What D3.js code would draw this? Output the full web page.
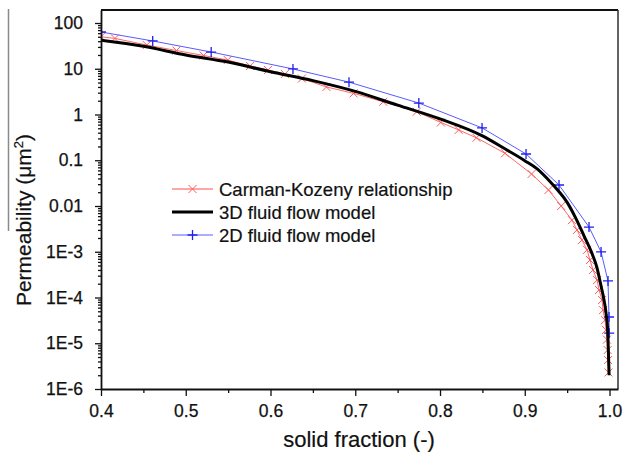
<!DOCTYPE html>
<html><head><meta charset="utf-8">
<script src="https://cdn.jsdelivr.net/npm/d3@7"></script>
<style>
body{margin:0;background:#fff;}
svg{display:block;font-family:"Liberation Sans",Arial,sans-serif;}
</style></head>
<body>
<svg id="chart" width="624" height="457"></svg>
<script>
// ---------------- data ----------------
const xTickValues = [0.4, 0.5, 0.6, 0.7, 0.8, 0.9, 1.0];
const xTickLabels = ["0.4", "0.5", "0.6", "0.7", "0.8", "0.9", "1.0"];
const xMinorTicks = [0.45, 0.55, 0.65, 0.75, 0.85, 0.95];
const yTickValues = [100, 10, 1, 0.1, 0.01, 1e-3, 1e-4, 1e-5, 1e-6];
const yTickLabels = ["100", "10", "1", "0.1", "0.01", "1E-3", "1E-4", "1E-5", "1E-6"];

const seriesNames = ["Carman-Kozeny relationship", "3D fluid flow model", "2D fluid flow model"];

// Carman-Kozeny relationship (red, x markers)
const ckX = [0.400, 0.4165, 0.454, 0.489, 0.521, 0.5495, 0.576, 0.597, 0.617, 0.637, 0.666, 0.698, 0.733, 0.7725, 0.801, 0.822, 0.843, 0.8767, 0.908, 0.928, 0.943, 0.9557, 0.9616, 0.9675, 0.9735, 0.977, 0.9805, 0.9853, 0.9876, 0.9912, 0.9923, 0.9947, 0.9959, 0.997, 0.9978, 0.9983, 0.9988];
const ckY = [50, 46, 33, 25, 19.5, 15.5, 11.5, 9.4, 7.7, 6.1, 4.0, 2.9, 1.9, 1.15, 0.67, 0.46, 0.31, 0.142, 0.050, 0.0224, 0.010, 0.0049, 0.0030, 0.0018, 0.0011, 6.6e-4, 4.0e-4, 2.4e-4, 1.46e-4, 8.8e-5, 5.3e-5, 3.2e-5, 1.95e-5, 1.2e-5, 7.1e-6, 4.3e-6, 2.3e-6];

// 3D fluid flow model (black thick line)
const m3dX = [0.40, 0.45, 0.50, 0.55, 0.60, 0.65, 0.70, 0.75, 0.80, 0.85, 0.875, 0.90, 0.915, 0.93, 0.94, 0.95, 0.96, 0.97, 0.98, 0.985, 0.99, 0.9935, 0.996, 0.998, 0.9995];
const m3dY = [42, 31, 20, 14, 8.6, 5.5, 3.2, 1.6, 0.80, 0.34, 0.185, 0.098, 0.064, 0.034, 0.021, 0.012, 0.0055, 0.0022, 8.5e-4, 4.6e-4, 1.78e-4, 8.8e-5, 4.4e-5, 1.67e-5, 2.0e-6];

// 2D fluid flow model (blue, + markers)
const m2dX = [0.400, 0.461, 0.530, 0.6265, 0.6926, 0.775, 0.8496, 0.9015, 0.9404, 0.9758, 0.990, 0.9982, 0.9994, 0.9996];
const m2dY = [63.6, 40.5, 23.2, 9.9, 5.1, 1.78, 0.51, 0.137, 0.0288, 0.00347, 9.9e-4, 2.3e-4, 3.75e-5, 1.67e-5];

// ---------------- chart ----------------
const svg = d3.select("#chart");
const L = 101, R = 618, T = 10, B = 389;

const x = d3.scaleLinear().domain([0.4, 1.01]).range([L, R]);
const y = d3.scaleLog().domain([1e-6, Math.pow(10, 2 + 13 / 45.75)]).range([B, T]);

// stray border line at far left
svg.append("line").attr("x1", 8.5).attr("x2", 8.5).attr("y1", 9).attr("y2", 231)
  .attr("stroke", "#8a8a8a").attr("stroke-width", 1.5);

svg.append("defs").append("clipPath").attr("id", "plotclip")
  .append("rect").attr("x", L).attr("y", T).attr("width", R - L).attr("height", B - T);

// frame (top and right)
svg.append("line").attr("x1", L).attr("x2", R).attr("y1", T).attr("y2", T).attr("stroke", "#111").attr("stroke-width", 1.8);
svg.append("line").attr("x1", R).attr("x2", R).attr("y1", T).attr("y2", B).attr("stroke", "#222").attr("stroke-width", 1.4);

const plot = svg.append("g").attr("clip-path", "url(#plotclip)");

const ck = ckX.map((d, i) => [d, ckY[i]]);
const m3d = m3dX.map((d, i) => [d, m3dY[i]]);
const m2d = m2dX.map((d, i) => [d, m2dY[i]]);

const lineLin = d3.line().x(d => x(d[0])).y(d => y(d[1]));
const lineSmooth = d3.line().x(d => x(d[0])).y(d => y(d[1])).curve(d3.curveMonotoneX);

const red = "#ff4d4d";

function crossX(g, cx, cy, s, color) {
  g.append("path").attr("d", `M${cx - s},${cy - s}L${cx + s},${cy + s}M${cx - s},${cy + s}L${cx + s},${cy - s}`)
    .attr("stroke", color).attr("stroke-width", 1).attr("fill", "none");
}
function plus(g, cx, cy, s, color) {
  g.append("path").attr("d", `M${cx - s},${cy}L${cx + s},${cy}M${cx},${cy - s}L${cx},${cy + s}`)
    .attr("stroke", color).attr("stroke-width", 1.3).attr("fill", "none");
}

// red CK
plot.append("path").datum(ck).attr("d", lineLin).attr("fill", "none")
  .attr("stroke", red).attr("stroke-width", 1).attr("stroke-opacity", 0.85);
ck.forEach(d => crossX(plot, x(d[0]), y(d[1]), 4, "#ff5a5a"));

// blue 2D
plot.append("path").datum(m2d).attr("d", lineLin).attr("fill", "none")
  .attr("stroke", "#5a5aff").attr("stroke-width", 1);
m2d.forEach(d => plus(plot, x(d[0]), y(d[1]), 5, "#2020ee"));

// black 3D
plot.append("path").datum(m3d).attr("d", lineSmooth).attr("fill", "none")
  .attr("stroke", "#000").attr("stroke-width", 3);

// axes
const xAxis = svg.append("g").attr("transform", `translate(0,${B})`)
  .call(d3.axisBottom(x).tickValues(xTickValues).tickFormat((d, i) => xTickLabels[i]).tickSize(7).tickSizeOuter(0).tickPadding(9));
svg.append("g").attr("transform", `translate(0,${B})`)
  .call(d3.axisBottom(x).tickValues(xMinorTicks).tickFormat("").tickSize(4).tickSizeOuter(0))
  .select(".domain").remove();

const yMinor = [];
for (let k = -6; k <= 1; k++) for (let m = 2; m <= 9; m++) yMinor.push(m * Math.pow(10, k));

const yAxis = svg.append("g").attr("transform", `translate(${L},0)`)
  .call(d3.axisLeft(y).tickValues(yTickValues).tickFormat((d, i) => yTickLabels[i]).tickSize(6).tickSizeOuter(0).tickPadding(12));
svg.append("g").attr("transform", `translate(${L},0)`)
  .call(d3.axisLeft(y).tickValues(yMinor).tickFormat("").tickSize(3).tickSizeOuter(0))
  .select(".domain").remove();

svg.selectAll(".tick line").attr("stroke", "#111").attr("stroke-width", 1.3);
xAxis.select(".domain").attr("stroke", "#111").attr("stroke-width", 1.8);
yAxis.select(".domain").attr("stroke", "#111").attr("stroke-width", 1.8);
svg.selectAll(".tick text").attr("font-size", 17.5).attr("fill", "#111")
  .attr("stroke", "#111").attr("stroke-width", 0.25)
  .attr("font-family", "'Liberation Sans', Arial, sans-serif");
xAxis.selectAll(".tick text").attr("dy", "0.71em");

// axis titles
svg.append("text").attr("x", 359).attr("y", 447).attr("text-anchor", "middle")
  .attr("font-size", 22).attr("fill", "#111").attr("stroke", "#111").attr("stroke-width", 0.2)
  .text("solid fraction (-)");
const yt = svg.append("text").attr("transform", "translate(31,220) rotate(-90)")
  .attr("text-anchor", "middle").attr("font-size", 21).attr("fill", "#111")
  .attr("stroke", "#111").attr("stroke-width", 0.2);
yt.append("tspan").text("Permeability (\u03bcm");
yt.append("tspan").attr("font-size", 13).attr("dy", -8).text("2");
yt.append("tspan").attr("dy", 8).text(")");

// legend
const legY = [189, 212, 235];
const lg = svg.append("g");
legY.forEach((ly, i) => {
  const col = i === 0 ? red : i === 1 ? "#000" : "#5a5aff";
  lg.append("line").attr("x1", 172).attr("x2", 213).attr("y1", ly).attr("y2", ly)
    .attr("stroke", col).attr("stroke-width", i === 1 ? 3 : 1);
  if (i === 0) crossX(lg, 192.5, ly, 4, "#ff5a5a");
  if (i === 2) plus(lg, 192.5, ly, 5, "#2020ee");
  lg.append("text").attr("x", 219).attr("y", ly + 6.5).attr("font-size", 18.5).attr("fill", "#111")
    .attr("stroke", "#111").attr("stroke-width", 0.2)
    .text(seriesNames[i]);
});
</script>
</body></html>
